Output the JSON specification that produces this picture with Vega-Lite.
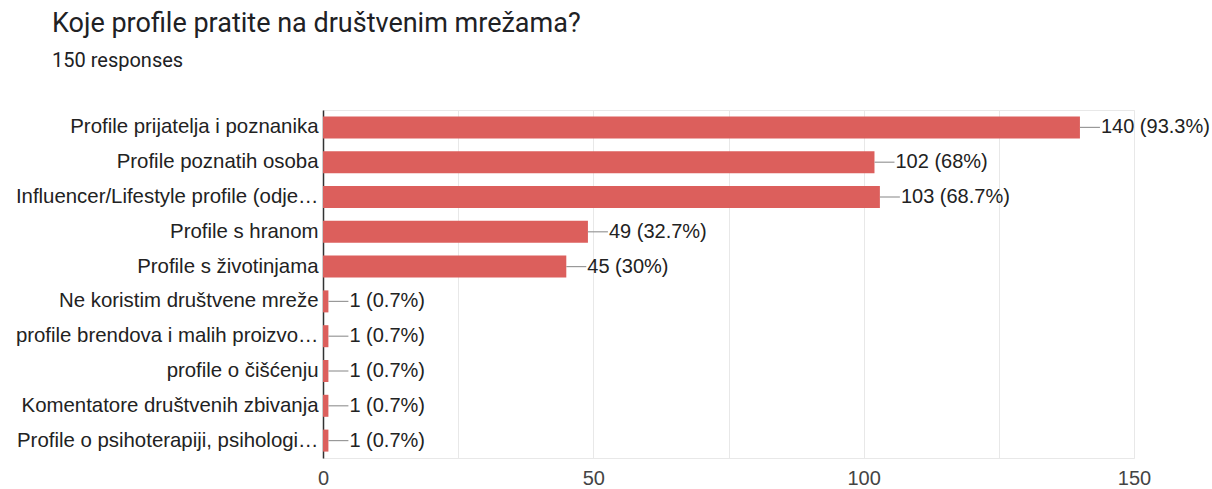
{
  "$schema": "https://vega.github.io/schema/vega-lite/v6.json",
  "width": 811,
  "height": 348,
  "autosize": "none",
  "padding": {"left": 323, "top": 110, "right": 78, "bottom": 31},
  "background": "#ffffff",
  "view": {"stroke": "#e8e8e8", "strokeWidth": 1},
  "title": {
    "text": "Koje profile pratite na društvenim mrežama?",
    "subtitle": "150 responses",
    "anchor": "start",
    "frame": "group",
    "dx": -271,
    "offset": 38,
    "font": "Roboto",
    "fontSize": 27,
    "fontWeight": "normal",
    "color": "#202124",
    "subtitleFont": "Roboto",
    "subtitleFontSize": 20,
    "subtitleColor": "#202124",
    "subtitlePadding": 13
  },
  "data": {
    "values": [
      {"category": "Profile prijatelja i poznanika", "count": 140, "label": "140 (93.3%)"},
      {"category": "Profile poznatih osoba", "count": 102, "label": "102 (68%)"},
      {"category": "Influencer/Lifestyle profile (odje…", "count": 103, "label": "103 (68.7%)"},
      {"category": "Profile s hranom", "count": 49, "label": "49 (32.7%)"},
      {"category": "Profile s životinjama", "count": 45, "label": "45 (30%)"},
      {"category": "Ne koristim društvene mreže", "count": 1, "label": "1 (0.7%)"},
      {"category": "profile brendova i malih proizvo…", "count": 1, "label": "1 (0.7%)"},
      {"category": "profile o čišćenju", "count": 1, "label": "1 (0.7%)"},
      {"category": "Komentatore društvenih zbivanja", "count": 1, "label": "1 (0.7%)"},
      {"category": "Profile o psihoterapiji, psihologi…", "count": 1, "label": "1 (0.7%)"}
    ]
  },
  "encoding": {
    "y": {
      "field": "category",
      "type": "nominal",
      "sort": null,
      "scale": {"paddingInner": 0, "paddingOuter": 0},
      "axis": {
        "title": null,
        "ticks": false,
        "domain": true,
        "domainColor": "#333333",
        "domainWidth": 1.5,
        "labelFont": "Liberation Sans",
        "labelFontSize": 20.4,
        "labelColor": "#222222",
        "labelPadding": 5,
        "labelLimit": 0,
        "grid": false
      }
    }
  },
  "layer": [
    {
      "mark": {"type": "bar", "color": "#dc5f5c", "size": 22},
      "encoding": {
        "x": {
          "field": "count",
          "type": "quantitative",
          "scale": {"domain": [0, 150], "nice": false},
          "axis": {
            "title": null,
            "values": [0, 25, 50, 75, 100, 125, 150],
            "labelExpr": "datum.value % 50 === 0 ? datum.label : ''",
            "labelFlush": false,
            "labelOverlap": false,
            "domain": false,
            "ticks": false,
            "grid": true,
            "gridColor": "#e8e8e8",
            "labelFont": "Liberation Sans",
            "labelFontSize": 20,
            "labelColor": "#444444",
            "labelPadding": 10
          }
        }
      }
    },
    {
      "mark": {"type": "rule", "color": "#999999", "strokeWidth": 1.2, "x2Offset": 20},
      "encoding": {
        "x": {"field": "count", "type": "quantitative"},
        "x2": {"field": "count"}
      }
    },
    {
      "mark": {"type": "text", "align": "left", "baseline": "middle", "dx": 21, "font": "Liberation Sans", "fontSize": 20, "color": "#222222"},
      "encoding": {
        "x": {"field": "count", "type": "quantitative"},
        "text": {"field": "label"}
      }
    }
  ]
}
